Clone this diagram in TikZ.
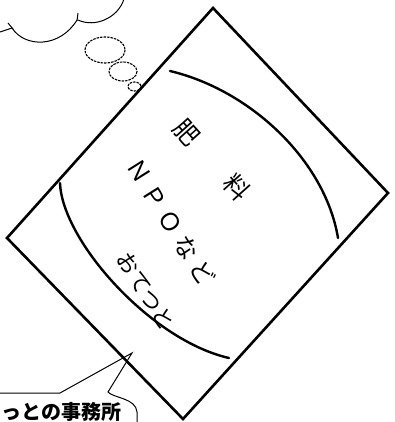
\documentclass[tikz,border=0pt]{standalone}
\usepackage{fontspec}
\newfontfamily\jp{Noto Sans CJK JP}
\begin{document}
\begin{tikzpicture}[x=1pt,y=-1pt,
  frame/.style={line width=2.6pt, line join=miter},
  arcline/.style={line width=2.4pt, line cap=round},
  thinline/.style={line width=1pt},
  bubble/.style={line width=1.1pt, dash pattern=on 2.5pt off 1pt},
  lbl/.style={font=\jp\fontsize{22}{22}\selectfont, inner sep=0pt},
  npolbl/.style={font=\jp\fontsize{24}{24}\selectfont, inner sep=0pt},
  biglbl/.style={font=\jp\fontsize{25}{25}\selectfont, inner sep=0pt},
  calloutlbl/.style={font=\jp\bfseries\fontsize{20}{20}\selectfont, inner sep=0pt, anchor=west}]
\useasboundingbox (0,0) rectangle (395,422);
% rotated square
\coordinate (T) at (213,8);
\coordinate (R) at (388,193);
\coordinate (B) at (183,419);
\coordinate (L) at (7,238);
\draw[frame] (T) -- (R) -- (B) -- (L) -- cycle;
% inner arcs
\draw[arcline] (170,71) .. controls (250,90) and (325,160) .. (338,238);
\draw[arcline] (60,183) .. controls (62,240) and (150,340) .. (229,358);
% texts inside
\node[biglbl, rotate=-48] (hiryo) at (212,160) {肥\hspace{50pt}料};
\node[npolbl, rotate=-58] (npo) at (171,222) {Ｎ\hspace{6pt}Ｐ\hspace{6pt}Ｏ\hspace{6pt}な\hspace{6pt}ど};
\node[lbl, rotate=-58] (otetsuto) at (146,291) {おてつと};
% thought cloud
\draw[thinline] (0,32) -- (12,28);
\draw[thinline] (8,23) -- (13,29);
\draw[thinline] (12,28) .. controls (25,48) and (60,48) .. (77,20);
\draw[thinline] (78,13) -- (77,21);
\draw[thinline] (78,20) .. controls (95,28) and (118,18) .. (124,-1);
\draw[bubble] (105,50) ellipse [x radius=20, y radius=13];
\draw[bubble] (123,71.5) ellipse [x radius=14, y radius=9.5];
\draw[bubble] (134.5,86.5) ellipse [x radius=6.5, y radius=4.5];
% callout
\coordinate (c0) at (-1,393);
\coordinate (c1) at (60,393);
\coordinate (tip) at (132,353);
\coordinate (c2) at (108,392);
\coordinate (c3) at (137,423);
\draw[thinline] (c0) -- (c1) -- (tip) -- (c2) .. controls (113,398) and (136,398) .. (137,412) -- (c3);
\node[calloutlbl] (office) at (1,412) {っとの事務所};
\end{tikzpicture}
\end{document}
